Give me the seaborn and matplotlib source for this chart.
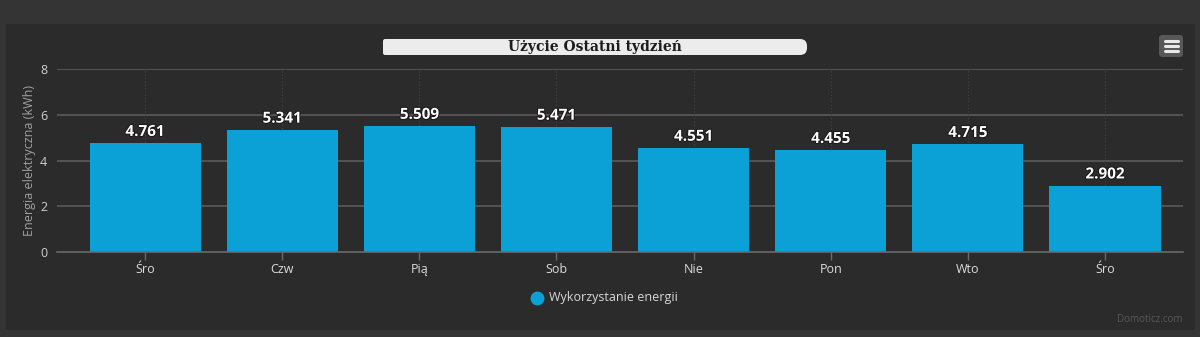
import matplotlib
matplotlib.use("Agg")
import matplotlib.pyplot as plt
import matplotlib.patheffects as pe
from matplotlib.patches import FancyBboxPatch, Rectangle
import seaborn as sns
import pandas as pd

days = ["Śro", "Czw", "Pią", "Sob", "Nie", "Pon", "Wto", "Śro"]
values = [4.761, 5.341, 5.509, 5.471, 4.551, 4.455, 4.715, 2.902]
series_name = "Wykorzystanie energii"
title = "Użycie Ostatni tydzień"
ylabel = "Energia elektryczna (kWh)"
yticks = [0, 2, 4, 6, 8]

sns.set_theme(style="dark")
plt.rcParams['font.family'] = ['Open Sans', 'DejaVu Sans']

OUTER = "#343434"
PANEL = "#2b2b2b"
BAR = "#0ca1d6"

W, H = 1200, 337
fig = plt.figure(figsize=(12, 3.37), dpi=100)
fig.patch.set_facecolor(OUTER)

def fx(px):
    return px / W

def fy(py):
    return 1 - py / H

# background overlay axes in pixel coordinates
bg = fig.add_axes([0, 0, 1, 1], zorder=-1)
bg.set_xlim(0, W)
bg.set_ylim(H, 0)
bg.axis("off")
bg.add_patch(Rectangle((6, 24), 1189, 306, facecolor=PANEL, edgecolor="none"))
# title box: square-ish left end, rounded right end
bg.add_patch(FancyBboxPatch((383, 39), 424, 16, boxstyle="round,pad=0,rounding_size=7",
                            facecolor="#ececec", edgecolor="none"))
bg.add_patch(FancyBboxPatch((383, 39), 40, 16, boxstyle="round,pad=0,rounding_size=2",
                            facecolor="#ececec", edgecolor="none"))
bg.text(595, 47, title, ha="center", va="center", fontsize=10, fontweight="bold",
        color="#1c1c1c", family=["DejaVu Serif"])
bg.add_patch(FancyBboxPatch((1159, 35), 24, 22, boxstyle="round,pad=0,rounding_size=3",
                            facecolor="#575757", edgecolor="none"))
for yy in [41, 46, 51]:
    bg.plot([1164.5, 1177.5], [yy, yy], color="#e8e8e8", lw=2.2, solid_capstyle="round")
bg.plot([537], [298], marker="o", markersize=9, color=BAR, lw=0)
bg.text(549, 298, series_name, ha="left", va="center", fontsize=9, color="#d8d8d8")
bg.text(1183, 320, "Domoticz.com", ha="right", va="center", fontsize=7, color="#585858")

ax = fig.add_axes([fx(57), fy(252), fx(1183) - fx(57), fy(69) - fy(252)], zorder=1)
ax.set_facecolor("none")

df = pd.DataFrame({"idx": list(range(len(days))), "value": values})
sns.barplot(data=df, x="idx", y="value", color=BAR, saturation=1, width=0.81, ax=ax,
            zorder=3, edgecolor="none", linewidth=0)

ax.set_xlim(-0.642, len(days) - 1 + 0.569)
ax.set_ylim(0, 8)
ax.set_yticks(yticks)
ax.set_xticks(range(len(days)))
ax.set_xticklabels(days)

for y in yticks[1:]:
    ax.axhline(y, color="#5a5a5a", lw=1.2, zorder=1)
for i in range(len(days)):
    ax.axvline(i, color="#444444", lw=0.8, ls=(0, (1, 2)), zorder=1)
ax.grid(False)

for s in ["top", "right", "left"]:
    ax.spines[s].set_visible(False)
ax.spines["bottom"].set_color("#6a6a6a")
ax.spines["bottom"].set_linewidth(1.2)
ax.spines["bottom"].set_zorder(4)

ax.tick_params(axis="x", colors="#6a6a6a", length=6, width=1, direction="out", pad=2,
               labelcolor="#dcdcdc", labelsize=9, bottom=True)
ax.tick_params(axis="y", length=0, pad=7, labelcolor="#cfcfcf", labelsize=9)

ax.set_xlabel("")
ax.set_ylabel(ylabel, color="#a0a0a0", fontsize=9, labelpad=3)

for cont in ax.containers:
    labels = ax.bar_label(cont, fmt="%.3f", padding=3, color="white", fontsize=11, fontweight="bold")
    for t in labels:
        t.set_path_effects([pe.withStroke(linewidth=1.5, foreground="#1a1a1a")])

fig.savefig("out.png", dpi=100, facecolor=OUTER)
